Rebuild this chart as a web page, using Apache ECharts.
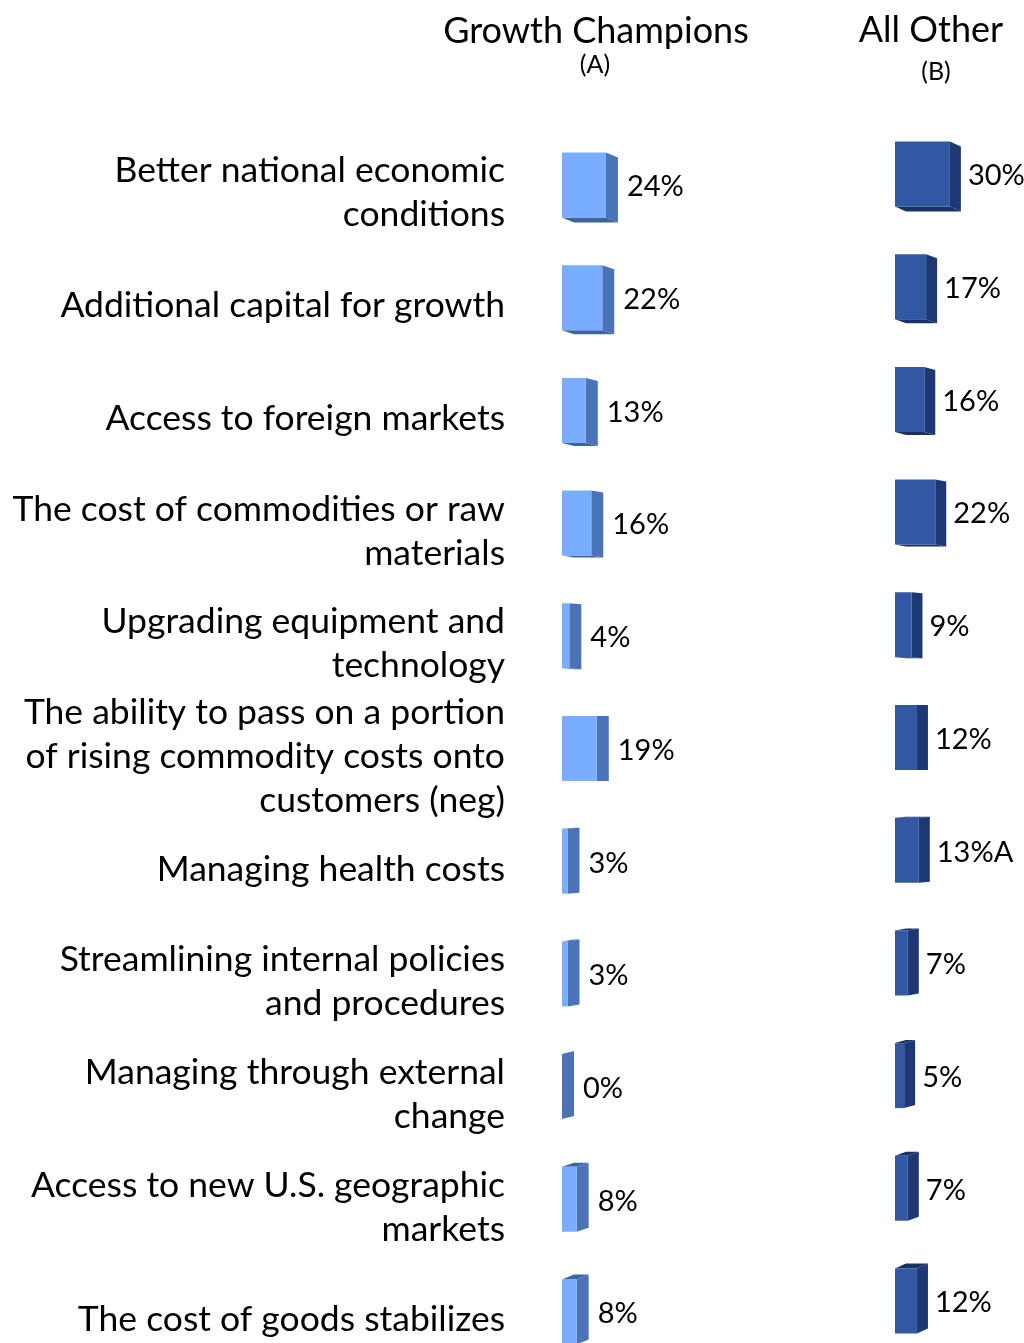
<!DOCTYPE html>
<html>
<head>
<meta charset="utf-8">
<script src="https://cdn.jsdelivr.net/npm/echarts@6/dist/echarts.min.js"></script>
<style>
html,body{margin:0;padding:0;background:#fff;}
#main{width:1024px;height:1343px;}
</style>
</head>
<body>
<div id="main"></div>
<script>
var categories = [
  "Better national economic\nconditions",
  "Additional capital for growth",
  "Access to foreign markets",
  "The cost of commodities or raw\nmaterials",
  "Upgrading equipment and\ntechnology",
  "The ability to pass on a portion\nof rising commodity costs onto\ncustomers (neg)",
  "Managing health costs",
  "Streamlining internal policies\nand procedures",
  "Managing through external\nchange",
  "Access to new U.S. geographic\nmarkets",
  "The cost of goods stabilizes"
];
var growthChampions = [24, 22, 13, 16, 4, 19, 3, 3, 0, 8, 8];
var allOther = [30, 17, 16, 22, 9, 12, 13, 7, 5, 7, 12];
var allOtherSig = ["", "", "", "", "", "", "A", "", "", "", ""];
var seriesNames = ["Growth Champions", "All Other"];
var seriesSub = ["(A)", "(B)"];

var FONT = "Lato, 'Open Sans', sans-serif";
var H = 1343;
var band = 112.7;
var topA = 185 - band / 2, topB = 174 - band / 2;

function make3D(colors, dx, gap, labelSuffix, withCategory) {
  return function (params, api) {
    var idx = api.value(0);
    var v = api.value(1);
    var p0 = api.coord([0, idx]);
    var p1 = api.coord([v, idx]);
    var h = 65;
    var x0 = p0[0], x1 = p1[0], cy = p0[1];
    var top = cy - h / 2, bot = cy + h / 2;
    var dy = 5 - idx;
    var children = [];
    if (dy > 0) {
      children.push({type: 'polygon', shape: {points: [[x0, bot], [x1, bot], [x1 + dx, bot + dy], [x0 + dx, bot + dy]]}, style: {fill: colors[2]}});
    } else if (dy < 0) {
      children.push({type: 'polygon', shape: {points: [[x0, top], [x1, top], [x1 + dx, top + dy], [x0 + dx, top + dy]]}, style: {fill: colors[2]}});
    }
    children.push({type: 'polygon', shape: {points: [[x1, top], [x1 + dx, top + dy], [x1 + dx, bot + dy], [x1, bot]]}, style: {fill: colors[1]}});
    if (x1 - x0 > 0) {
      children.push({type: 'rect', shape: {x: x0, y: top, width: x1 - x0, height: h}, style: {fill: colors[0]}});
    }
    children.push({
      type: 'text',
      style: {
        text: v + '%' + (labelSuffix ? labelSuffix[params.dataIndex] : ''),
        x: x1 + dx + gap, y: cy + 2,
        fill: '#000', font: '29px ' + FONT,
        verticalAlign: 'middle', align: 'left'
      }
    });
    if (withCategory) {
      children.push({
        type: 'text',
        style: {
          text: categories[params.dataIndex],
          x: x0 - 57, y: cy + 8,
          fill: '#000', font: '35.5px ' + FONT, lineHeight: 44,
          verticalAlign: 'middle', align: 'right'
        }
      });
    }
    return {type: 'group', children: children};
  };
}

var dataA = growthChampions.map(function (v, i) { return [i, v]; });
var dataB = allOther.map(function (v, i) { return [i, v]; });

var chart = echarts.init(document.getElementById('main'), null, {renderer: 'canvas'});
var hA = H - topA, hB = H - topB;
chart.setOption({
  animation: false,
  graphic: [
    {type: 'text', x: 596, y: 31, style: {text: seriesNames[0], font: '36px ' + FONT, fill: '#000', align: 'center', verticalAlign: 'middle'}},
    {type: 'text', x: 595, y: 65, style: {text: seriesSub[0], font: '25px ' + FONT, fill: '#000', align: 'center', verticalAlign: 'middle'}},
    {type: 'text', x: 931, y: 30, style: {text: seriesNames[1], font: '36px ' + FONT, fill: '#000', align: 'center', verticalAlign: 'middle'}},
    {type: 'text', x: 936, y: 72, style: {text: seriesSub[1], font: '25px ' + FONT, fill: '#000', align: 'center', verticalAlign: 'middle'}}
  ],
  grid: [
    {left: 562, top: topA, width: 183, height: hA},
    {left: 895, top: topB, width: 128.1, height: hB}
  ],
  xAxis: [
    {gridIndex: 0, type: 'value', min: 0, max: 100, show: false},
    {gridIndex: 1, type: 'value', min: 0, max: 70, show: false}
  ],
  yAxis: [
    {gridIndex: 0, type: 'value', inverse: true, min: -0.5, max: -0.5 + hA / band, show: false},
    {gridIndex: 1, type: 'value', inverse: true, min: -0.5, max: -0.5 + hB / band, show: false}
  ],
  series: [
    {type: 'custom', name: seriesNames[0], xAxisIndex: 0, yAxisIndex: 0, clip: false,
      encode: {x: 1, y: 0}, data: dataA,
      renderItem: make3D(['#78adff', '#4a74b6', '#3d63a3'], 12, 9, null, true)},
    {type: 'custom', name: seriesNames[1], xAxisIndex: 1, yAxisIndex: 1, clip: false,
      encode: {x: 1, y: 0}, data: dataB,
      renderItem: make3D(['#3358a3', '#1d3872', '#1a3166'], 11, 7, allOtherSig, false)}
  ]
});
</script>
</body>
</html>
